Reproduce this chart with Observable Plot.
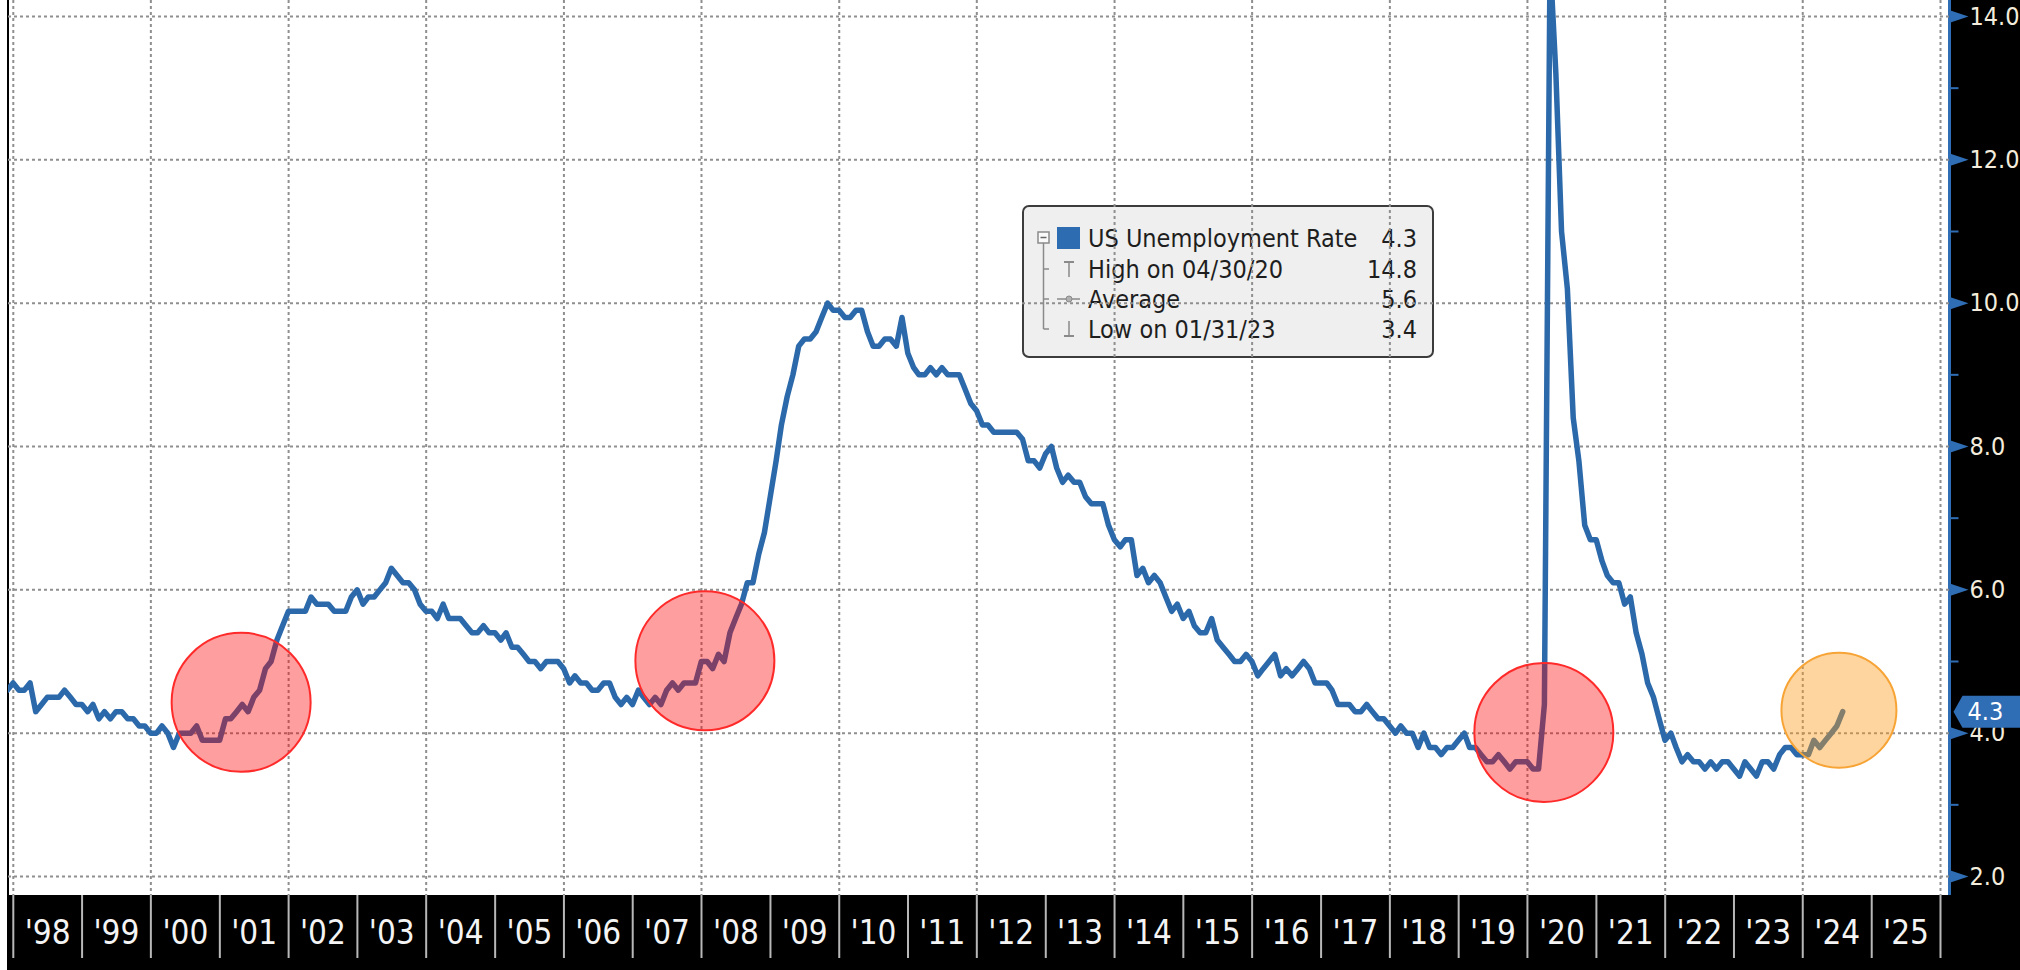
<!DOCTYPE html>
<html><head><meta charset="utf-8">
<script src="https://cdn.jsdelivr.net/npm/d3@7"></script>
<script src="https://cdn.jsdelivr.net/npm/@observablehq/plot@0.6"></script>
<style>
html,body{margin:0;padding:0;background:#fff;overflow:hidden;width:2020px;height:970px;}
#wrap{position:relative;width:2020px;height:970px;}
.bg{position:absolute;background:#000;}
#legend{position:absolute;left:1022px;top:205px;z-index:0;}
#chart{position:absolute;left:0;top:0;z-index:1;}
</style></head><body>
<div id="wrap">
  <div class="bg" style="left:1948px;top:0;width:72px;height:970px;"></div>
  <div style="position:absolute;left:1948px;top:0;width:3px;height:895px;background:#2f6db5"></div>
  <div class="bg" style="left:7px;top:895px;width:2013px;height:75px;"></div>
  <div class="bg" style="left:7px;top:0;width:2px;height:895px;"></div>
  <div id="legend"></div>
  <div id="chart"></div>
</div>
<script>
// ---- Monthly US unemployment rate (%), month-end points, starting Nov 1997 ----
const rate1997 = [4.6, 4.7]; // Nov, Dec
const rate1998 = [4.6, 4.6, 4.7, 4.3, 4.4, 4.5, 4.5, 4.5, 4.6, 4.5, 4.4, 4.4];
const rate1999 = [4.3, 4.4, 4.2, 4.3, 4.2, 4.3, 4.3, 4.2, 4.2, 4.1, 4.1, 4.0];
const rate2000 = [4.0, 4.1, 4.0, 3.8, 4.0, 4.0, 4.0, 4.1, 3.9, 3.9, 3.9, 3.9];
const rate2001 = [4.2, 4.2, 4.3, 4.4, 4.3, 4.5, 4.6, 4.9, 5.0, 5.3, 5.5, 5.7];
const rate2002 = [5.7, 5.7, 5.7, 5.9, 5.8, 5.8, 5.8, 5.7, 5.7, 5.7, 5.9, 6.0];
const rate2003 = [5.8, 5.9, 5.9, 6.0, 6.1, 6.3, 6.2, 6.1, 6.1, 6.0, 5.8, 5.7];
const rate2004 = [5.7, 5.6, 5.8, 5.6, 5.6, 5.6, 5.5, 5.4, 5.4, 5.5, 5.4, 5.4];
const rate2005 = [5.3, 5.4, 5.2, 5.2, 5.1, 5.0, 5.0, 4.9, 5.0, 5.0, 5.0, 4.9];
const rate2006 = [4.7, 4.8, 4.7, 4.7, 4.6, 4.6, 4.7, 4.7, 4.5, 4.4, 4.5, 4.4];
const rate2007 = [4.6, 4.5, 4.4, 4.5, 4.4, 4.6, 4.7, 4.6, 4.7, 4.7, 4.7, 5.0];
const rate2008 = [5.0, 4.9, 5.1, 5.0, 5.4, 5.6, 5.8, 6.1, 6.1, 6.5, 6.8, 7.3];
const rate2009 = [7.8, 8.3, 8.7, 9.0, 9.4, 9.5, 9.5, 9.6, 9.8, 10.0, 9.9, 9.9];
const rate2010 = [9.8, 9.8, 9.9, 9.9, 9.6, 9.4, 9.4, 9.5, 9.5, 9.4, 9.8, 9.3];
const rate2011 = [9.1, 9.0, 9.0, 9.1, 9.0, 9.1, 9.0, 9.0, 9.0, 8.8, 8.6, 8.5];
const rate2012 = [8.3, 8.3, 8.2, 8.2, 8.2, 8.2, 8.2, 8.1, 7.8, 7.8, 7.7, 7.9];
const rate2013 = [8.0, 7.7, 7.5, 7.6, 7.5, 7.5, 7.3, 7.2, 7.2, 7.2, 6.9, 6.7];
const rate2014 = [6.6, 6.7, 6.7, 6.2, 6.3, 6.1, 6.2, 6.1, 5.9, 5.7, 5.8, 5.6];
const rate2015 = [5.7, 5.5, 5.4, 5.4, 5.6, 5.3, 5.2, 5.1, 5.0, 5.0, 5.1, 5.0];
const rate2016 = [4.8, 4.9, 5.0, 5.1, 4.8, 4.9, 4.8, 4.9, 5.0, 4.9, 4.7, 4.7];
const rate2017 = [4.7, 4.6, 4.4, 4.4, 4.4, 4.3, 4.3, 4.4, 4.3, 4.2, 4.2, 4.1];
const rate2018 = [4.0, 4.1, 4.0, 4.0, 3.8, 4.0, 3.8, 3.8, 3.7, 3.8, 3.8, 3.9];
const rate2019 = [4.0, 3.8, 3.8, 3.7, 3.6, 3.6, 3.7, 3.6, 3.5, 3.6, 3.6, 3.6];
const rate2020 = [3.5, 3.5, 4.4, 14.8, 13.2, 11.0, 10.2, 8.4, 7.8, 6.9, 6.7, 6.7];
const rate2021 = [6.4, 6.2, 6.1, 6.1, 5.8, 5.9, 5.4, 5.1, 4.7, 4.5, 4.2, 3.9];
const rate2022 = [4.0, 3.8, 3.6, 3.7, 3.6, 3.6, 3.5, 3.6, 3.5, 3.6, 3.6, 3.5];
const rate2023 = [3.4, 3.6, 3.5, 3.4, 3.6, 3.6, 3.5, 3.7, 3.8, 3.8, 3.7, 3.7];
const rate2024 = [3.7, 3.9, 3.8, 3.9, 4.0, 4.1, 4.3];

const seriesStart = [1997, 10]; // year, month index of first value
const yearlyRates = [rate1997, rate1998, rate1999, rate2000, rate2001, rate2002, rate2003,
  rate2004, rate2005, rate2006, rate2007, rate2008, rate2009, rate2010, rate2011, rate2012,
  rate2013, rate2014, rate2015, rate2016, rate2017, rate2018, rate2019, rate2020, rate2021,
  rate2022, rate2023, rate2024];

// ---- Axis tick values / labels ----
const yMajorTicks = [2, 4, 6, 8, 10, 12, 14];
const yMinorTicks = [3, 5, 7, 9, 11, 13];
const gridYears = [1998, 2000, 2002, 2004, 2006, 2008, 2010, 2012, 2014, 2016, 2018, 2020, 2022, 2024, 2026];
const bandYears = d3.range(1998, 2027);
const yearLabels = ["'98","'99","'00","'01","'02","'03","'04","'05","'06","'07","'08","'09","'10","'11",
  "'12","'13","'14","'15","'16","'17","'18","'19","'20","'21","'22","'23","'24","'25"];

// ---- Highlight circles (centre date, centre value) ----
const redCircleDates = ["2001-04-24", "2008-01-19", "2020-03-28"];
const redCircleValues = [4.43, 5.01, 4.01];
const orangeCircleDates = ["2024-07-11"];
const orangeCircleValues = [4.32];

// ---- Legend ----
const legendLabels = ["US Unemployment Rate", "High on 04/30/20", "Average", "Low on 01/31/23"];
const legendValues = ["4.3", "14.8", "5.6", "3.4"];

// ---- Build table ----
const data = [];
let yy = seriesStart[0], mm = seriesStart[1];
for (const arr of yearlyRates) {
  for (const v of arr) {
    data.push({date: new Date(Date.UTC(yy, mm + 1, 0)), value: v});
    mm++; if (mm > 11) { mm = 0; yy++; }
  }
}
const last = data[data.length - 1];
const redCircles = redCircleDates.map((d, i) => ({date: new Date(d), value: redCircleValues[i]}));
const orangeCircles = orangeCircleDates.map((d, i) => ({date: new Date(d), value: orangeCircleValues[i]}));
const gridDates = gridYears.map(y => new Date(Date.UTC(y, 0, 1)));
const bandDates = bandYears.map(y => new Date(Date.UTC(y, 0, 1)));
const labelData = yearLabels.map((t, i) => ({date: new Date(Date.UTC(1998 + i, 6, 2)), label: t}));

const BLUE = "#2b69aa";
const AXISBLUE = "#2f6db5";
const LABEL = "#f3ecdc";
const condensed = "'DejaVu Sans Condensed', 'DejaVu Sans', sans-serif";
const narrow = "'Liberation Sans Narrow', 'DejaVu Sans Condensed', 'Arial Narrow', sans-serif";

const triRight = {draw(ctx) { ctx.moveTo(1, -6); ctx.lineTo(19, 0); ctx.lineTo(1, 6); ctx.closePath(); }};
const minorTick = {draw(ctx) { ctx.moveTo(1, 0); ctx.lineTo(9, 0); }};
const tagShape = {draw(ctx) { ctx.moveTo(4, 0); ctx.lineTo(13, -16); ctx.lineTo(75, -16); ctx.lineTo(75, 16); ctx.lineTo(13, 16); ctx.closePath(); }};

const chart = Plot.plot({
  width: 2020, height: 970,
  marginLeft: 8, marginRight: 71, marginTop: 0, marginBottom: 75,
  style: {background: "transparent", overflow: "visible", fontFamily: condensed},
  x: {type: "utc", domain: [new Date(Date.UTC(1998, 0, 1)), new Date(Date.UTC(2026, 0, 1))], range: [12.8, 1940], axis: null},
  y: {domain: [2, 14], range: [876, 16], axis: null},
  marks: [
    Plot.ruleY(yMajorTicks, {stroke: "#8f8f8f", strokeWidth: 2, strokeDasharray: "3,3"}),
    Plot.ruleX(gridDates, {stroke: "#8f8f8f", strokeWidth: 2, strokeDasharray: "3,3"}),
    Plot.line(data, {x: "date", y: "value", stroke: BLUE, strokeWidth: 5.5, strokeLinejoin: "round", clip: true}),
    Plot.dot(redCircles, {x: "date", y: "value", r: 69.5, fill: "#ff0000", fillOpacity: 0.38, stroke: "#ff2a2a", strokeWidth: 2}),
    Plot.dot(orangeCircles, {x: "date", y: "value", r: 57.5, fill: "#ff9a1a", fillOpacity: 0.42, stroke: "#f7a436", strokeWidth: 2}),
    // bottom band separators and year labels
    Plot.axisX(bandDates, {anchor: "bottom", tickSize: 63, tickFormat: () => "", stroke: "#b8b8b8", strokeWidth: 2}),
    Plot.text(labelData, {x: "date", text: "label", frameAnchor: "bottom", dy: 48, fill: "#f4f4f4", fontSize: 33, fontFamily: narrow}),
    // right axis
    Plot.dot(yMinorTicks, {y: d => d, frameAnchor: "right", symbol: minorTick, stroke: AXISBLUE, strokeWidth: 2, fill: "none"}),
    Plot.dot(yMajorTicks, {y: d => d, frameAnchor: "right", symbol: triRight, fill: AXISBLUE, stroke: "none"}),
    Plot.text(yMajorTicks, {y: d => d, text: d => d3.format(".1f")(d), frameAnchor: "right", dx: 20, textAnchor: "start", fill: LABEL, fontSize: 25, fontFamily: condensed}),
    // last value tag
    Plot.dot([last], {y: "value", frameAnchor: "right", symbol: tagShape, fill: AXISBLUE, stroke: "none"}),
    Plot.text([last], {y: "value", text: d => d3.format(".1f")(d.value), frameAnchor: "right", dx: 18, textAnchor: "start", fill: "#ffffff", fontSize: 25, fontFamily: condensed})
  ]
});
document.getElementById("chart").appendChild(chart);

// ---- Legend box ----
const lg = d3.select("#legend").append("svg").attr("width", 414).attr("height", 155)
  .style("font-family", condensed);
lg.append("rect").attr("x", 1).attr("y", 1).attr("width", 410).attr("height", 151).attr("rx", 6)
  .attr("fill", "#efefef").attr("stroke", "#3c3c3c").attr("stroke-width", 2);
const base = [42, 73, 103, 133];
const ctr = base.map(b => b - 9);
const G = "#8a8a8a";
lg.append("line").attr("x1", 21.5).attr("x2", 21.5).attr("y1", 38).attr("y2", ctr[3]).attr("stroke", G).attr("stroke-width", 1.5);
for (let i = 1; i < 4; i++) lg.append("line").attr("x1", 21.5).attr("x2", 27).attr("y1", ctr[i]).attr("y2", ctr[i]).attr("stroke", G).attr("stroke-width", 1.5);
lg.append("rect").attr("x", 16).attr("y", ctr[0] - 6).attr("width", 11).attr("height", 11).attr("fill", "#fafafa").attr("stroke", G).attr("stroke-width", 1.5);
lg.append("line").attr("x1", 18.5).attr("x2", 24.5).attr("y1", ctr[0] - 0.5).attr("y2", ctr[0] - 0.5).attr("stroke", "#666").attr("stroke-width", 1.5);
lg.append("rect").attr("x", 35).attr("y", ctr[0] - 11).attr("width", 23).attr("height", 22).attr("fill", "#2d6cb0");
// high
lg.append("line").attr("x1", 42).attr("x2", 52).attr("y1", ctr[1] - 7).attr("y2", ctr[1] - 7).attr("stroke", G).attr("stroke-width", 2);
lg.append("line").attr("x1", 47).attr("x2", 47).attr("y1", ctr[1] - 7).attr("y2", ctr[1] + 8).attr("stroke", G).attr("stroke-width", 1.5);
// average
lg.append("line").attr("x1", 35).attr("x2", 58).attr("y1", ctr[2]).attr("y2", ctr[2]).attr("stroke", G).attr("stroke-width", 1.5);
lg.append("circle").attr("cx", 47).attr("cy", ctr[2]).attr("r", 3).attr("fill", "#b0b0b0").attr("stroke", G);
// low
lg.append("line").attr("x1", 47).attr("x2", 47).attr("y1", ctr[3] - 8).attr("y2", ctr[3] + 7).attr("stroke", G).attr("stroke-width", 1.5);
lg.append("line").attr("x1", 42).attr("x2", 52).attr("y1", ctr[3] + 7).attr("y2", ctr[3] + 7).attr("stroke", G).attr("stroke-width", 2);
legendLabels.forEach((t, i) => {
  lg.append("text").attr("x", 66).attr("y", base[i]).attr("font-size", 25).attr("fill", "#1e1e1e").text(t);
  lg.append("text").attr("x", 395).attr("y", base[i]).attr("font-size", 25).attr("fill", "#1e1e1e").attr("text-anchor", "end").text(legendValues[i]);
});
</script>
</body></html>
